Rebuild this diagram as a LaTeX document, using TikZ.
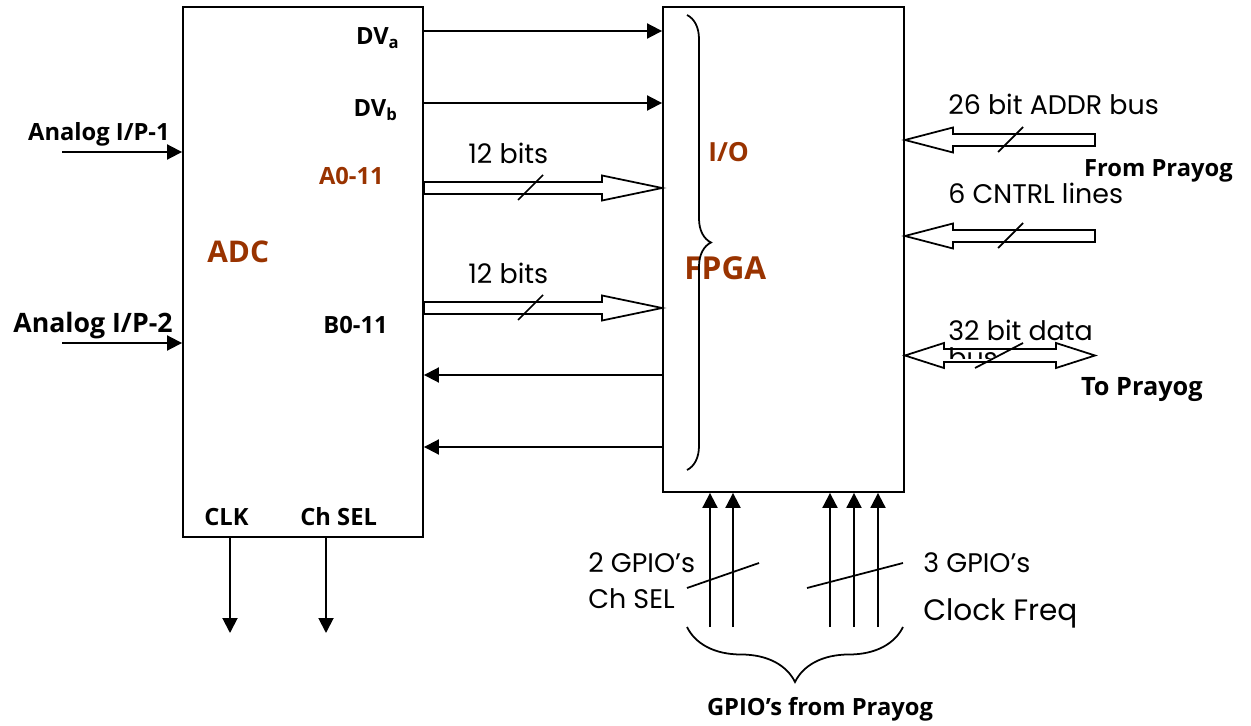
\documentclass[tikz,border=0pt]{standalone}
\usepackage{fontspec}
\setmainfont{Poppins}
\newfontfamily\lblfont{Open Sans}
\usetikzlibrary{arrows.meta,calc,decorations.pathreplacing}

\tikzset{
  block/.style={draw, line width=1.1pt, inner sep=0pt},
  sig/.style={line width=1.1pt, -{Triangle[length=0.3cm, width=0.3cm]}},
  tick/.style={line width=1pt},
  txt/.style={inner sep=0pt, font=\fontsize{15.3}{18}\selectfont},
  lbl/.style={inner sep=0pt, font=\lblfont\bfseries\fontsize{13.5}{16}\selectfont},
  % hollow bus arrow, #1 = head length
  bus/.style={line width=1pt, to path={let \p1=(\tikztostart), \p2=(\tikztotarget),
      \p3=($(\tikztotarget)!#1!(\tikztostart)$) in
      (\x1,{\y1+0.12cm}) -- (\x3,{\y1+0.12cm}) -- (\x3,{\y1+0.25cm}) -- (\x2,\y1)
      -- (\x3,{\y1-0.25cm}) -- (\x3,{\y1-0.12cm}) -- (\x1,{\y1-0.12cm}) -- cycle}},
  busboth/.style={line width=1pt, to path={let \p1=(\tikztostart), \p2=(\tikztotarget),
      \p3=($(\tikztotarget)!#1!(\tikztostart)$), \p4=($(\tikztostart)!#1!(\tikztotarget)$) in
      (\x1,\y1) -- (\x4,{\y1+0.25cm}) -- (\x4,{\y1+0.13cm}) -- (\x3,{\y1+0.13cm})
      -- (\x3,{\y1+0.25cm}) -- (\x2,\y1) -- (\x3,{\y1-0.25cm}) -- (\x3,{\y1-0.13cm})
      -- (\x4,{\y1-0.13cm}) -- (\x4,{\y1-0.25cm}) -- cycle}},
}

\begin{document}
\begin{tikzpicture}[x=0.02cm, y=-0.02cm]
    \definecolor{labelBrown}{HTML}{993300}
    \useasboundingbox (0,0) rectangle (1251,726);

    % Blocks
    \node[block, minimum width=4.8cm, minimum height=10.6cm] (adc) at (303,272) {};
    \node[block, minimum width=4.82cm, minimum height=9.7cm] (fpga) at (783.5,249.5) {};

    % ADC labels
    \node[lbl, anchor=base east] (dvaL) at (400,45) {DV\textsubscript{a}};
    \node[lbl, anchor=base east] (dvbL) at (398,117) {DV\textsubscript{b}};
    \node[lbl, anchor=base east, labelBrown] (aL) at (384,185) {A0-11};
    \node[lbl, anchor=base east] (bL) at (388,334) {B0-11};
    \node[lbl, anchor=base west, labelBrown, font=\lblfont\bfseries\fontsize{17}{20}\selectfont] (adcL) at (207,263) {ADC};
    \node[lbl, anchor=base west] (clkL) at (204,525) {CLK};
    \node[lbl, anchor=base west] (chselL) at (300,525) {Ch SEL};
    \node[lbl, anchor=base east] (in1L) at (170,141) {Analog I/P-1};
    \node[lbl, anchor=base east, font=\lblfont\bfseries\fontsize{15.2}{18}\selectfont] (in2L) at (173,333) {Analog I/P-2};

    % FPGA labels
    \node[lbl, anchor=base west, labelBrown, font=\lblfont\bfseries\fontsize{15}{18}\selectfont] (ioL) at (708,162) {I/O};
    \node[lbl, anchor=base west, labelBrown, font=\lblfont\bfseries\fontsize{18}{21}\selectfont] (fpgaL) at (684,279) {FPGA};
    \draw[line width=1pt, decorate, decoration={brace, amplitude=0.48cm}] (687,15) -- (687,470);

    % ADC inputs and outputs
    \coordinate (in1) at (62,152);
    \coordinate (in2) at (62,343);
    \draw[sig] (in1) -- (adc.west |- in1);
    \draw[sig] (in2) -- (adc.west |- in2);
    \coordinate (clkOut) at (230,633);
    \coordinate (chselOut) at (326,633);
    \draw[sig] (adc.south -| clkOut) -- (clkOut);
    \draw[sig] (adc.south -| chselOut) -- (chselOut);

    % ADC to FPGA
    \coordinate (dva) at (0,31);
    \coordinate (dvb) at (0,103);
    \coordinate (abus) at (0,188);
    \coordinate (bbus) at (0,308);
    \coordinate (ret1) at (0,375);
    \coordinate (ret2) at (0,447);
    \draw[sig] (adc.east |- dva) -- (fpga.west |- dva);
    \draw[sig] (adc.east |- dvb) -- (fpga.west |- dvb);
    \draw[bus=1.2cm] (adc.east |- abus) to (fpga.west |- abus);
    \draw[bus=1.2cm] (adc.east |- bbus) to (fpga.west |- bbus);
    \draw[tick] (518,200) -- (543,175);
    \draw[tick] (518,320) -- (543,295);
    \node[txt, anchor=base west] (aBits) at (468,164) {12 bits};
    \node[txt, anchor=base west] (bBits) at (468,284) {12 bits};
    \draw[sig] (fpga.west |- ret1) -- (adc.east |- ret1);
    \draw[sig] (fpga.west |- ret2) -- (adc.east |- ret2);

    % Prayog side
    \coordinate (addrTail) at (1095,140);
    \coordinate (cntrlTail) at (1095,236);
    \coordinate (dataEnd) at (1095,355.5);
    \draw[bus=0.96cm] (addrTail) to (fpga.east |- addrTail);
    \draw[bus=0.96cm] (cntrlTail) to (fpga.east |- cntrlTail);
    \draw[tick] (998,152) -- (1023,127);
    \draw[tick] (998,248) -- (1023,223);
    \node[txt, anchor=base west] (addrL) at (948,115) {26 bit ADDR bus};
    \node[lbl, anchor=base east] (fromL) at (1233,177) {From Prayog};
    \node[txt, anchor=base west] (cntrlL) at (948,204) {6 CNTRL lines};
    \node[txt, anchor=base west] (dataL) at (948,340) {32 bit data};
    \begin{scope}
        \clip (940,300) rectangle (1100,358);
        \node[txt, anchor=base west] (dataL2) at (948,367) {bus};
    \end{scope}
    \draw[busboth=0.78cm] (fpga.east |- dataEnd) to (dataEnd);
    \draw[tick] (975,368) -- (1023,343);
    \node[lbl, anchor=base east, font=\lblfont\bfseries\fontsize{14.4}{17}\selectfont] (toL) at (1203,395) {To Prayog};

    % GPIO inputs
    \foreach \x in {710,733,830,854,878} {
        \coordinate (g\x) at (\x,627);
        \draw[sig] (g\x) -- (fpga.south -| g\x);
    }
    \draw[tick] (687,588) -- (759,563);
    \draw[tick] (807,588) -- (903,563);
    \node[txt, anchor=base west] (gpio2L) at (588,572) {2 GPIO’s};
    \node[txt, anchor=base west] (chsel2L) at (588,608) {Ch SEL};
    \node[txt, anchor=base west] (gpio3L) at (923,572) {3 GPIO’s};
    \node[txt, anchor=base west, font=\fontsize{16.8}{20}\selectfont] (clkfL) at (923,620) {Clock Freq};
    \draw[line width=1pt, decorate, decoration={brace, amplitude=1.1cm}] (903,627) -- (687,627);
    \node[lbl, anchor=base] (gpioL) at (820,715) {GPIO’s from Prayog};

\end{tikzpicture}
\end{document}
